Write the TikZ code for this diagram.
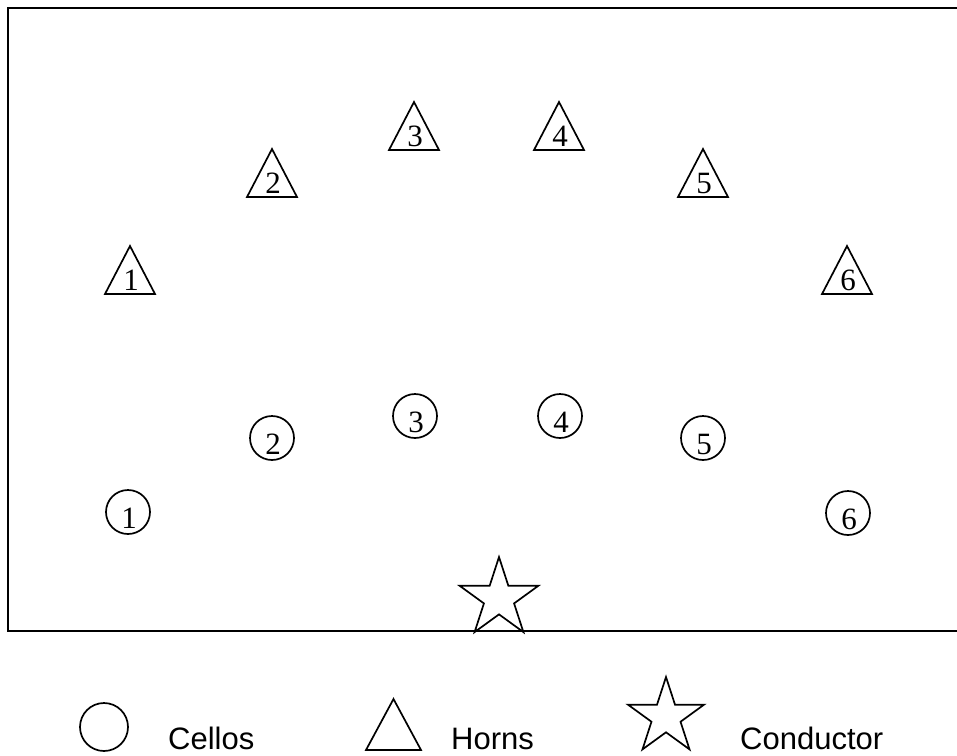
\documentclass[tikz,border=0pt]{standalone}
\usepackage{fontspec}
\setmainfont{Liberation Serif}
\newfontfamily\legfont{Liberation Sans}
\usetikzlibrary{calc}
\tikzset{
  shapeline/.style={draw=black, line width=1.7pt, line join=miter, fill=white},
  framebox/.style={draw=black, line width=2.6pt},
  num/.style={inner sep=0pt, anchor=base, font=\fontsize{31}{36}\selectfont},
  legtext/.style={inner sep=0pt, anchor=base west, font=\legfont\fontsize{31}{36}\selectfont},
  horn/.pic={
    \draw[shapeline] (-25,24) -- (0,-24) -- (25,24) -- cycle;
    \node[num] at (1,20) {#1};
  },
  cello/.pic={
    \draw[shapeline] (0,0) circle[radius=22];
    \node[num] at (1,16) {#1};
  },
  starshape/.pic={
    \draw[shapeline, yscale=-1] (90:#1) -- (126:0.382*#1) -- (162:#1) -- (198:0.382*#1) -- (234:#1)
      -- (270:0.382*#1) -- (306:#1) -- (342:0.382*#1) -- (18:#1) -- (54:0.382*#1) -- cycle;
  },
}
\begin{document}
\begin{tikzpicture}[x=1pt,y=-1pt]
\useasboundingbox (0,0) rectangle (957,755);
% stage frame
\coordinate (tr) at (970,8);
\coordinate (tl) at (8,8);
\coordinate (bl) at (8,631);
\coordinate (br) at (970,631);
\draw[framebox] (tr) -- (tl) -- (bl) -- (br);
% horns
\pic (h1) at (130,270) {horn=1};
\pic (h2) at (272,173) {horn=2};
\pic (h3) at (414,126) {horn=3};
\pic (h4) at (559,126) {horn=4};
\pic (h5) at (703,173) {horn=5};
\pic (h6) at (847,270) {horn=6};
% cellos
\pic (c1) at (128,512) {cello=1};
\pic (c2) at (272,438) {cello=2};
\pic (c3) at (415,416) {cello=3};
\pic (c4) at (560,416) {cello=4};
\pic (c5) at (703,438) {cello=5};
\pic (c6) at (848,513) {cello=6};
% conductor
\pic (cond) at (499,598.5) {starshape=41.5};
% legend
\draw[line width=1.7pt] (104,727) circle[radius=24];
\node[legtext] (lc) at (168,749) {Cellos};
\draw[line width=1.7pt, line join=miter] (366,750) -- (393.5,699) -- (421,750) -- cycle;
\node[legtext] (lh) at (451,749) {Horns};
\pic (lstar) at (666,717) {starshape=40};
\node[legtext] (lco) at (740,749) {Conductor};
\end{tikzpicture}
\end{document}
